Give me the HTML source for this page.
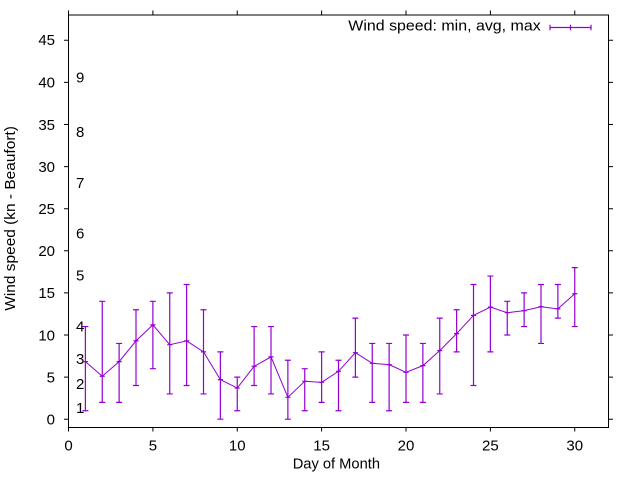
<!DOCTYPE html>
<html>
<head>
<meta charset="utf-8">
<style>
  html, body { margin: 0; padding: 0; background: #ffffff; }
  svg { display: block; }
  text { font-family: "Liberation Sans", Arial, sans-serif; font-size: 15px; fill: #000; }
</style>
</head>
<body>
<svg width="640" height="480" viewBox="0 0 640 480" xmlns="http://www.w3.org/2000/svg">
  <rect x="0" y="0" width="640" height="480" fill="#ffffff"/>

  <!-- Beaufort labels -->
  <g>
    <text x="76" y="82.5">9</text>
    <text x="76" y="137.2">8</text>
    <text x="76" y="188.1">7</text>
    <text x="76" y="238.6">6</text>
    <text x="76" y="280.5">5</text>
    <text x="76" y="331.5">4</text>
    <text x="76" y="363.8">3</text>
    <text x="76" y="388.8">2</text>
    <text x="76" y="413.2">1</text>
  </g>

  <!-- data -->
  <g transform="translate(68.5,419.2) scale(16.875,-8.42)" fill="none" stroke="#9400d3">
    <path vector-effect="non-scaling-stroke" stroke-width="1.2" d="
M1 1V11M.822 1h.356M.822 11h.356M.85 6.84h.3
M2 2V14M1.822 2h.356M1.822 14h.356M1.85 5.1h.3
M3 2V9M2.822 2h.356M2.822 9h.356M2.85 6.84h.3
M4 4V13M3.822 4h.356M3.822 13h.356M3.85 9.3h.3
M5 6V14M4.822 6h.356M4.822 14h.356M4.85 11.2h.3
M6 3V15M5.822 3h.356M5.822 15h.356M5.85 8.85h.3
M7 4V16M6.822 4h.356M6.822 16h.356M6.85 9.3h.3
M8 3V13M7.822 3h.356M7.822 13h.356M7.85 8h.3
M9 0V8M8.822 0h.356M8.822 8h.356M8.85 4.7h.3
M10 1V5M9.822 1h.356M9.822 5h.356M9.85 3.7h.3
M11 4V11M10.822 4h.356M10.822 11h.356M10.85 6.28h.3
M12 3V11M11.822 3h.356M11.822 11h.356M11.85 7.4h.3
M13 0V7M12.822 0h.356M12.822 7h.356M12.85 2.6h.3
M14 1V6M13.822 1h.356M13.822 6h.356M13.85 4.5h.3
M15 2V8M14.822 2h.356M14.822 8h.356M14.85 4.38h.3
M16 1V7M15.822 1h.356M15.822 7h.356M15.85 5.69h.3
M17 5V12M16.822 5h.356M16.822 12h.356M16.85 7.9h.3
M18 2V9M17.822 2h.356M17.822 9h.356M17.85 6.64h.3
M19 1V9M18.822 1h.356M18.822 9h.356M18.85 6.48h.3
M20 2V10M19.822 2h.356M19.822 10h.356M19.85 5.57h.3
M21 2V9M20.822 2h.356M20.822 9h.356M20.85 6.36h.3
M22 3V12M21.822 3h.356M21.822 12h.356M21.85 8.15h.3
M23 8V13M22.822 8h.356M22.822 13h.356M22.85 10.16h.3
M24 4V16M23.822 4h.356M23.822 16h.356M23.85 12.33h.3
M25 8V17M24.822 8h.356M24.822 17h.356M24.85 13.32h.3
M26 10V14M25.822 10h.356M25.822 14h.356M25.85 12.65h.3
M27 11V15M26.822 11h.356M26.822 15h.356M26.85 12.89h.3
M28 9V16M27.822 9h.356M27.822 16h.356M27.85 13.36h.3
M29 12V16M28.822 12h.356M28.822 16h.356M28.85 13.1h.3
M30 11V18M29.822 11h.356M29.822 18h.356M29.85 14.9h.3"/>
    <polyline vector-effect="non-scaling-stroke" stroke-width="1" points="1,6.84 2,5.1 3,6.84 4,9.3 5,11.2 6,8.85 7,9.3 8,8 9,4.7 10,3.7 11,6.28 12,7.4 13,2.6 14,4.5 15,4.38 16,5.69 17,7.9 18,6.64 19,6.48 20,5.57 21,6.36 22,8.15 23,10.16 24,12.33 25,13.32 26,12.65 27,12.89 28,13.36 29,13.1 30,14.9"/>
  </g>

  <!-- frame -->
  <g stroke="#000" stroke-width="1" fill="none">
    <path d="M68.5 15H608.5V427.5H68.5Z"/>
    <!-- y ticks left/right -->
    <path d="M64 419.2H68.5M64 377.1H68.5M64 335H68.5M64 292.9H68.5M64 250.8H68.5M64 208.7H68.5M64 166.6H68.5M64 124.5H68.5M64 82.4H68.5M64 40.3H68.5"/>
    <path d="M608.5 419.2H613M608.5 377.1H613M608.5 335H613M608.5 292.9H613M608.5 250.8H613M608.5 208.7H613M608.5 166.6H613M608.5 124.5H613M608.5 82.4H613M608.5 40.3H613"/>
    <!-- x ticks bottom/top -->
    <path d="M68.5 427.5V431.5M152.9 427.5V431.5M237.25 427.5V431.5M321.6 427.5V431.5M406 427.5V431.5M490.4 427.5V431.5M574.75 427.5V431.5"/>
    <path d="M68.5 15V10.5M152.9 15V10.5M237.25 15V10.5M321.6 15V10.5M406 15V10.5M490.4 15V10.5M574.75 15V10.5"/>
  </g>

  <!-- y tick labels -->
  <g text-anchor="end">
    <text x="55" y="424.5">0</text>
    <text x="55" y="382.4">5</text>
    <text x="55" y="340.3">10</text>
    <text x="55" y="298.2">15</text>
    <text x="55" y="256.1">20</text>
    <text x="55" y="214">25</text>
    <text x="55" y="171.9">30</text>
    <text x="55" y="129.8">35</text>
    <text x="55" y="87.7">40</text>
    <text x="55" y="45.1">45</text>
  </g>

  <!-- x tick labels -->
  <g text-anchor="middle">
    <text x="68.5" y="450.5">0</text>
    <text x="152.9" y="450.5">5</text>
    <text x="237.25" y="450.5">10</text>
    <text x="321.6" y="450.5">15</text>
    <text x="406" y="450.5">20</text>
    <text x="490.4" y="450.5">25</text>
    <text x="574.75" y="450.5">30</text>
  </g>

  <!-- axis labels -->
  <text x="292.7" y="468.5" textLength="87.3" lengthAdjust="spacingAndGlyphs">Day of Month</text>
  <text transform="translate(15,310.7) rotate(-90)" x="0" y="0" textLength="184.6" lengthAdjust="spacingAndGlyphs">Wind speed (kn - Beaufort)</text>

  <!-- legend -->
  <text x="348.3" y="30.7" textLength="192.4" lengthAdjust="spacingAndGlyphs">Wind speed: min, avg, max</text>
  <g stroke="#9400d3" stroke-width="1.2" fill="none">
    <path d="M550 27.5H591M550 24.8V30.2M570.5 24.8V30.2M591 24.8V30.2"/>
  </g>
</svg>
</body>
</html>
